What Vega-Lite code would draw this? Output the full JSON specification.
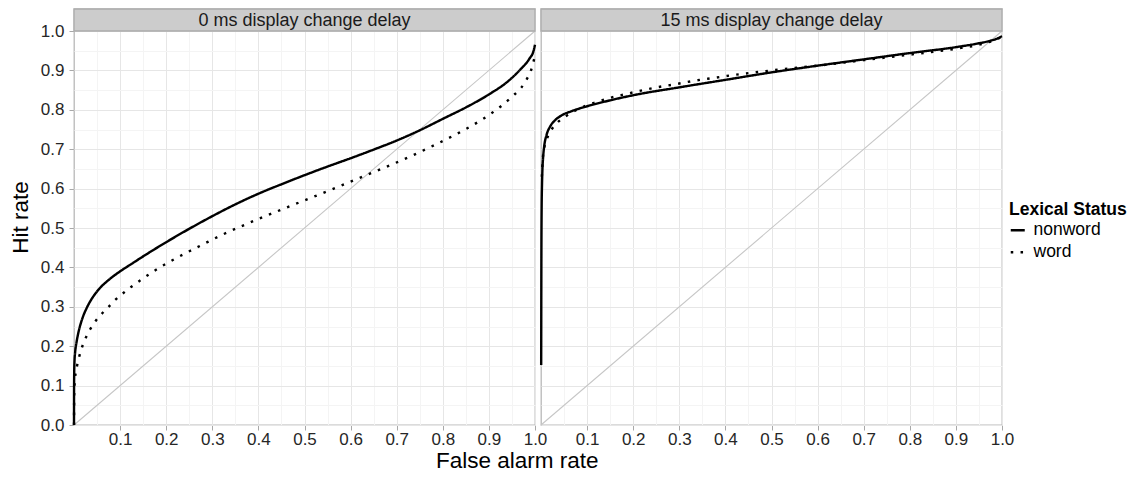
{
  "$schema": "https://vega.github.io/schema/vega-lite/v6.json",
  "padding": {"left": 9, "top": 7, "right": 5, "bottom": 2},
  "bounds": "flush",
  "config": {
    "font": "Liberation Sans",
    "view": {"stroke": "#B8B8B8", "strokeWidth": 1.3},
    "axis": {
      "labelFont": "Liberation Sans",
      "titleFont": "Liberation Sans",
      "labelFontSize": 17,
      "labelColor": "#262626",
      "domain": false,
      "tickColor": "#A8A8A8",
      "tickSize": 5,
      "labelOverlap": false,
      "labelFlush": false,
      "gridColor": {"condition": {"test": "round(datum.value*20)%2==1", "value": "#F4F4F4"}, "value": "#E6E6E6"},
      "tickOpacity": {"condition": {"test": "round(datum.value*20)%2==1", "value": 0}, "value": 1}
    },
    "legend": {"labelFont": "Liberation Sans", "titleFont": "Liberation Sans"}
  },
  "title": {"text": "False alarm rate", "orient": "bottom", "anchor": "middle", "frame": "bounds", "dx": -51,
            "fontSize": 22.5, "fontWeight": "normal", "color": "#000000", "offset": 3},
  "data": {"values": [
    {"p": "0 ms display change delay", "s": "diag", "x": 0, "y": 0},
    {"p": "0 ms display change delay", "s": "diag", "x": 1, "y": 1},
    {"p": "15 ms display change delay", "s": "diag", "x": 0, "y": 0},
    {"p": "15 ms display change delay", "s": "diag", "x": 1, "y": 1},

    {"p": "0 ms display change delay", "s": "nonword", "x": 0, "y": 0},
    {"p": "0 ms display change delay", "s": "nonword", "x": 0.0001, "y": 0.08},
    {"p": "0 ms display change delay", "s": "nonword", "x": 0.0004, "y": 0.13},
    {"p": "0 ms display change delay", "s": "nonword", "x": 0.001, "y": 0.16},
    {"p": "0 ms display change delay", "s": "nonword", "x": 0.0025, "y": 0.185},
    {"p": "0 ms display change delay", "s": "nonword", "x": 0.0055, "y": 0.21},
    {"p": "0 ms display change delay", "s": "nonword", "x": 0.01, "y": 0.237},
    {"p": "0 ms display change delay", "s": "nonword", "x": 0.018, "y": 0.27},
    {"p": "0 ms display change delay", "s": "nonword", "x": 0.028, "y": 0.298},
    {"p": "0 ms display change delay", "s": "nonword", "x": 0.04, "y": 0.323},
    {"p": "0 ms display change delay", "s": "nonword", "x": 0.055, "y": 0.346},
    {"p": "0 ms display change delay", "s": "nonword", "x": 0.075, "y": 0.368},
    {"p": "0 ms display change delay", "s": "nonword", "x": 0.1, "y": 0.39},
    {"p": "0 ms display change delay", "s": "nonword", "x": 0.125, "y": 0.409},
    {"p": "0 ms display change delay", "s": "nonword", "x": 0.15, "y": 0.428},
    {"p": "0 ms display change delay", "s": "nonword", "x": 0.2, "y": 0.464},
    {"p": "0 ms display change delay", "s": "nonword", "x": 0.25, "y": 0.498},
    {"p": "0 ms display change delay", "s": "nonword", "x": 0.3, "y": 0.53},
    {"p": "0 ms display change delay", "s": "nonword", "x": 0.35, "y": 0.56},
    {"p": "0 ms display change delay", "s": "nonword", "x": 0.4, "y": 0.587},
    {"p": "0 ms display change delay", "s": "nonword", "x": 0.45, "y": 0.611},
    {"p": "0 ms display change delay", "s": "nonword", "x": 0.5, "y": 0.634},
    {"p": "0 ms display change delay", "s": "nonword", "x": 0.55, "y": 0.656},
    {"p": "0 ms display change delay", "s": "nonword", "x": 0.6, "y": 0.677},
    {"p": "0 ms display change delay", "s": "nonword", "x": 0.65, "y": 0.699},
    {"p": "0 ms display change delay", "s": "nonword", "x": 0.7, "y": 0.722},
    {"p": "0 ms display change delay", "s": "nonword", "x": 0.75, "y": 0.748},
    {"p": "0 ms display change delay", "s": "nonword", "x": 0.8, "y": 0.777},
    {"p": "0 ms display change delay", "s": "nonword", "x": 0.85, "y": 0.806},
    {"p": "0 ms display change delay", "s": "nonword", "x": 0.9, "y": 0.839},
    {"p": "0 ms display change delay", "s": "nonword", "x": 0.94, "y": 0.871},
    {"p": "0 ms display change delay", "s": "nonword", "x": 0.968, "y": 0.902},
    {"p": "0 ms display change delay", "s": "nonword", "x": 0.988, "y": 0.93},
    {"p": "0 ms display change delay", "s": "nonword", "x": 0.997, "y": 0.95},
    {"p": "0 ms display change delay", "s": "nonword", "x": 1.0, "y": 0.965},

    {"p": "0 ms display change delay", "s": "word", "x": 0, "y": 0},
    {"p": "0 ms display change delay", "s": "word", "x": 0.0005, "y": 0.08},
    {"p": "0 ms display change delay", "s": "word", "x": 0.002, "y": 0.115},
    {"p": "0 ms display change delay", "s": "word", "x": 0.004, "y": 0.135},
    {"p": "0 ms display change delay", "s": "word", "x": 0.007, "y": 0.152},
    {"p": "0 ms display change delay", "s": "word", "x": 0.011, "y": 0.172},
    {"p": "0 ms display change delay", "s": "word", "x": 0.017, "y": 0.196},
    {"p": "0 ms display change delay", "s": "word", "x": 0.025, "y": 0.22},
    {"p": "0 ms display change delay", "s": "word", "x": 0.035, "y": 0.243},
    {"p": "0 ms display change delay", "s": "word", "x": 0.047, "y": 0.264},
    {"p": "0 ms display change delay", "s": "word", "x": 0.06, "y": 0.282},
    {"p": "0 ms display change delay", "s": "word", "x": 0.075, "y": 0.3},
    {"p": "0 ms display change delay", "s": "word", "x": 0.09, "y": 0.318},
    {"p": "0 ms display change delay", "s": "word", "x": 0.105, "y": 0.333},
    {"p": "0 ms display change delay", "s": "word", "x": 0.121, "y": 0.348},
    {"p": "0 ms display change delay", "s": "word", "x": 0.139, "y": 0.363},
    {"p": "0 ms display change delay", "s": "word", "x": 0.156, "y": 0.377},
    {"p": "0 ms display change delay", "s": "word", "x": 0.174, "y": 0.391},
    {"p": "0 ms display change delay", "s": "word", "x": 0.192, "y": 0.404},
    {"p": "0 ms display change delay", "s": "word", "x": 0.21, "y": 0.416},
    {"p": "0 ms display change delay", "s": "word", "x": 0.247, "y": 0.439},
    {"p": "0 ms display change delay", "s": "word", "x": 0.284, "y": 0.461},
    {"p": "0 ms display change delay", "s": "word", "x": 0.322, "y": 0.483},
    {"p": "0 ms display change delay", "s": "word", "x": 0.362, "y": 0.504},
    {"p": "0 ms display change delay", "s": "word", "x": 0.4, "y": 0.523},
    {"p": "0 ms display change delay", "s": "word", "x": 0.44, "y": 0.542},
    {"p": "0 ms display change delay", "s": "word", "x": 0.478, "y": 0.56},
    {"p": "0 ms display change delay", "s": "word", "x": 0.5, "y": 0.57},
    {"p": "0 ms display change delay", "s": "word", "x": 0.557, "y": 0.597},
    {"p": "0 ms display change delay", "s": "word", "x": 0.615, "y": 0.625},
    {"p": "0 ms display change delay", "s": "word", "x": 0.673, "y": 0.653},
    {"p": "0 ms display change delay", "s": "word", "x": 0.732, "y": 0.683},
    {"p": "0 ms display change delay", "s": "word", "x": 0.79, "y": 0.715},
    {"p": "0 ms display change delay", "s": "word", "x": 0.845, "y": 0.748},
    {"p": "0 ms display change delay", "s": "word", "x": 0.882, "y": 0.773},
    {"p": "0 ms display change delay", "s": "word", "x": 0.916, "y": 0.8},
    {"p": "0 ms display change delay", "s": "word", "x": 0.949, "y": 0.832},
    {"p": "0 ms display change delay", "s": "word", "x": 0.977, "y": 0.868},
    {"p": "0 ms display change delay", "s": "word", "x": 0.994, "y": 0.91},
    {"p": "0 ms display change delay", "s": "word", "x": 1.0, "y": 0.938},

    {"p": "15 ms display change delay", "s": "nonword", "x": 0.0004, "y": 0.152},
    {"p": "15 ms display change delay", "s": "nonword", "x": 0.0008, "y": 0.4},
    {"p": "15 ms display change delay", "s": "nonword", "x": 0.0014, "y": 0.55},
    {"p": "15 ms display change delay", "s": "nonword", "x": 0.0022, "y": 0.61},
    {"p": "15 ms display change delay", "s": "nonword", "x": 0.003, "y": 0.645},
    {"p": "15 ms display change delay", "s": "nonword", "x": 0.0045, "y": 0.678},
    {"p": "15 ms display change delay", "s": "nonword", "x": 0.007, "y": 0.708},
    {"p": "15 ms display change delay", "s": "nonword", "x": 0.012, "y": 0.736},
    {"p": "15 ms display change delay", "s": "nonword", "x": 0.02, "y": 0.758},
    {"p": "15 ms display change delay", "s": "nonword", "x": 0.03, "y": 0.773},
    {"p": "15 ms display change delay", "s": "nonword", "x": 0.045, "y": 0.786},
    {"p": "15 ms display change delay", "s": "nonword", "x": 0.065, "y": 0.796},
    {"p": "15 ms display change delay", "s": "nonword", "x": 0.1, "y": 0.809},
    {"p": "15 ms display change delay", "s": "nonword", "x": 0.15, "y": 0.824},
    {"p": "15 ms display change delay", "s": "nonword", "x": 0.2, "y": 0.837},
    {"p": "15 ms display change delay", "s": "nonword", "x": 0.3, "y": 0.857},
    {"p": "15 ms display change delay", "s": "nonword", "x": 0.4, "y": 0.876},
    {"p": "15 ms display change delay", "s": "nonword", "x": 0.5, "y": 0.895},
    {"p": "15 ms display change delay", "s": "nonword", "x": 0.6, "y": 0.912},
    {"p": "15 ms display change delay", "s": "nonword", "x": 0.7, "y": 0.928},
    {"p": "15 ms display change delay", "s": "nonword", "x": 0.8, "y": 0.944},
    {"p": "15 ms display change delay", "s": "nonword", "x": 0.9, "y": 0.959},
    {"p": "15 ms display change delay", "s": "nonword", "x": 0.946, "y": 0.968},
    {"p": "15 ms display change delay", "s": "nonword", "x": 0.974, "y": 0.975},
    {"p": "15 ms display change delay", "s": "nonword", "x": 0.99, "y": 0.981},
    {"p": "15 ms display change delay", "s": "nonword", "x": 1.0, "y": 0.987},

    {"p": "15 ms display change delay", "s": "word", "x": 0.0018, "y": 0.63},
    {"p": "15 ms display change delay", "s": "word", "x": 0.004, "y": 0.678},
    {"p": "15 ms display change delay", "s": "word", "x": 0.007, "y": 0.703},
    {"p": "15 ms display change delay", "s": "word", "x": 0.013, "y": 0.727},
    {"p": "15 ms display change delay", "s": "word", "x": 0.022, "y": 0.748},
    {"p": "15 ms display change delay", "s": "word", "x": 0.036, "y": 0.768},
    {"p": "15 ms display change delay", "s": "word", "x": 0.053, "y": 0.783},
    {"p": "15 ms display change delay", "s": "word", "x": 0.07, "y": 0.795},
    {"p": "15 ms display change delay", "s": "word", "x": 0.089, "y": 0.806},
    {"p": "15 ms display change delay", "s": "word", "x": 0.108, "y": 0.815},
    {"p": "15 ms display change delay", "s": "word", "x": 0.129, "y": 0.823},
    {"p": "15 ms display change delay", "s": "word", "x": 0.149, "y": 0.83},
    {"p": "15 ms display change delay", "s": "word", "x": 0.17, "y": 0.836},
    {"p": "15 ms display change delay", "s": "word", "x": 0.21, "y": 0.847},
    {"p": "15 ms display change delay", "s": "word", "x": 0.251, "y": 0.857},
    {"p": "15 ms display change delay", "s": "word", "x": 0.292, "y": 0.865},
    {"p": "15 ms display change delay", "s": "word", "x": 0.334, "y": 0.874},
    {"p": "15 ms display change delay", "s": "word", "x": 0.375, "y": 0.881},
    {"p": "15 ms display change delay", "s": "word", "x": 0.416, "y": 0.888},
    {"p": "15 ms display change delay", "s": "word", "x": 0.457, "y": 0.894},
    {"p": "15 ms display change delay", "s": "word", "x": 0.5, "y": 0.9},
    {"p": "15 ms display change delay", "s": "word", "x": 0.6, "y": 0.912},
    {"p": "15 ms display change delay", "s": "word", "x": 0.7, "y": 0.926},
    {"p": "15 ms display change delay", "s": "word", "x": 0.8, "y": 0.94},
    {"p": "15 ms display change delay", "s": "word", "x": 0.9, "y": 0.955},
    {"p": "15 ms display change delay", "s": "word", "x": 0.95, "y": 0.965},
    {"p": "15 ms display change delay", "s": "word", "x": 0.98, "y": 0.975},
    {"p": "15 ms display change delay", "s": "word", "x": 1.0, "y": 0.985}
  ]},
  "facet": {
    "column": {"field": "p", "type": "nominal", "header": {"title": null, "labels": false},
               "sort": ["0 ms display change delay", "15 ms display change delay"]}
  },
  "spacing": 6,
  "spec": {
    "width": 461,
    "height": 416,
    "encoding": {
      "x": {"field": "x", "type": "quantitative",
            "scale": {"domain": [0, 1], "nice": false, "zero": false},
            "axis": {"title": null, "labelPadding": 1,
                     "values": [0.05,0.1,0.15,0.2,0.25,0.3,0.35,0.4,0.45,0.5,0.55,0.6,0.65,0.7,0.75,0.8,0.85,0.9,0.95,1.0],
                     "labelExpr": "round(datum.value*20)%2==1 ? '' : format(datum.value, '.1f')"}},
      "y": {"field": "y", "type": "quantitative",
            "scale": {"domain": [0, 1.05584], "nice": false, "zero": false},
            "axis": {"title": "Hit rate", "titleFontSize": 22.5, "titleFontWeight": "normal", "titleColor": "#000000",
                     "titlePadding": 8, "labelPadding": 5,
                     "values": [0,0.05,0.1,0.15,0.2,0.25,0.3,0.35,0.4,0.45,0.5,0.55,0.6,0.65,0.7,0.75,0.8,0.85,0.9,0.95,1.0],
                     "labelExpr": "round(datum.value*20)%2==1 ? '' : format(datum.value, '.1f')"}}
    },
    "layer": [
      {
        "transform": [{"filter": "datum.s == 'diag'"}],
        "mark": {"type": "line", "color": "#C6C6C6", "strokeWidth": 1.1},
        "encoding": {"order": {"field": "x", "type": "quantitative"}}
      },
      {
        "transform": [{"filter": "datum.s != 'diag'"}],
        "mark": {"type": "line", "color": "#000000", "strokeWidth": 2.4, "interpolate": "monotone"},
        "encoding": {
          "order": {"field": "x", "type": "quantitative"},
          "strokeDash": {"field": "s", "type": "nominal",
                         "scale": {"domain": ["nonword", "word"], "range": [[1, 0], [2.5, 7.3]]},
                         "legend": {"title": "Lexical Status", "orient": "none", "legendX": 935, "legendY": 192,
                                    "titleFontSize": 17.5, "titleFontWeight": "bold", "titleColor": "#000000",
                                    "labelFontSize": 17.5, "labelColor": "#000000", "labelOffset": 7,
                                    "symbolType": "stroke", "symbolStrokeColor": "#000000", "symbolStrokeWidth": 2.4,
                                    "symbolSize": 196, "rowPadding": 3, "titlePadding": 3}}
        }
      },
      {
        "transform": [{"filter": "datum.s == 'diag' && datum.x == 0"}],
        "mark": {"type": "rect", "fill": "#CCCCCC", "stroke": "#ABABAB", "strokeWidth": 1.3},
        "encoding": {
          "x": {"datum": 0, "type": "quantitative"},
          "x2": {"datum": 1},
          "y": {"datum": 1.0, "type": "quantitative"},
          "y2": {"datum": 1.05584}
        }
      },
      {
        "transform": [{"filter": "datum.s == 'diag' && datum.x == 0"}],
        "mark": {"type": "text", "fontSize": 18, "color": "#1A1A1A", "baseline": "middle", "align": "center", "dy": 1},
        "encoding": {
          "x": {"datum": 0.5, "type": "quantitative"},
          "y": {"datum": 1.0279, "type": "quantitative"},
          "text": {"field": "p", "type": "nominal"}
        }
      }
    ]
  }
}
